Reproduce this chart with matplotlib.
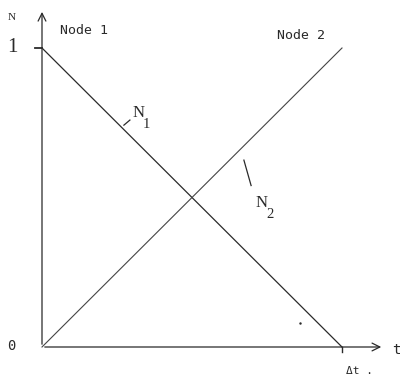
import numpy as np
from matplotlib import pyplot as plt

# linear shape functions on one time element
t = [0.0, 1.0]
n1 = [1.0, 0.0]
n2 = [0.0, 1.0]
tick_labels = ["0", "1"]

fig = plt.figure(figsize=(4.0, 3.81), dpi=100)
ax = fig.add_axes([0, 0, 1, 1])
ax.set_xlim(-42 / 300, 358 / 300)
ax.set_ylim(-34 / 299, 347 / 299)
ax.axis("off")

ink = "#2a2a2a"
mono = "DejaVu Sans Mono"
serif = "Liberation Serif"

# axes with arrows
ax.annotate("", xy=(0, 1.13), xytext=(0, 0),
            arrowprops=dict(arrowstyle="->", color=ink, lw=0.9, mutation_scale=14))
ax.annotate("", xy=(1.14, 0), xytext=(0, 0),
            arrowprops=dict(arrowstyle="->", color=ink, lw=0.9, mutation_scale=14))

# ticks
ax.plot([-0.023, 0], [1, 1], color=ink, lw=1.3)
ax.plot([1, 1], [0, -0.017], color=ink, lw=1.0)

ax.plot(t, n1, color=ink, lw=0.9)
ax.plot(t, n2, color="#444444", lw=0.8)

ax.text(-0.1, 1, tick_labels[1], fontsize=15, family=serif, ha="center", va="center", color=ink)
ax.text(-0.103, 0.003, tick_labels[0], fontsize=10, family=mono, ha="center", va="center", color=ink)
ax.text(-0.1, 1.103, "N", fontsize=8, family=serif, ha="center", va="center", color=ink)
ax.text(1.18, -0.01, "t", fontsize=10, family=mono, ha="center", va="center", color=ink)
ax.text(1.06, -0.08, "\u0394t .", fontsize=8, family=mono, ha="center", va="center", color=ink)

ax.text(0.06, 1.06, "Node 1", fontsize=9.5, family=mono, ha="left", va="center", color=ink)
ax.text(0.783, 1.043, "Node 2", fontsize=9.5, family=mono, ha="left", va="center", color=ink)

# curve labels with leader strokes (subscripts drawn as separate text)
ax.text(0.303, 0.782, "N", fontsize=12, family=serif, ha="left", va="center", color=ink)
ax.text(0.337, 0.744, "1", fontsize=10.5, family=serif, ha="left", va="center", color=ink)
ax.plot([0.273, 0.293], [0.742, 0.759], color=ink, lw=0.9)
ax.text(0.713, 0.48, "N", fontsize=12, family=serif, ha="left", va="center", color=ink)
ax.text(0.747, 0.442, "2", fontsize=10.5, family=serif, ha="left", va="center", color=ink)
ax.plot([0.673, 0.697], [0.625, 0.54], color=ink, lw=0.9)

ax.plot([0.86], [0.08], marker=".", ms=1.5, color=ink)

fig.savefig("out.png", dpi=100)
